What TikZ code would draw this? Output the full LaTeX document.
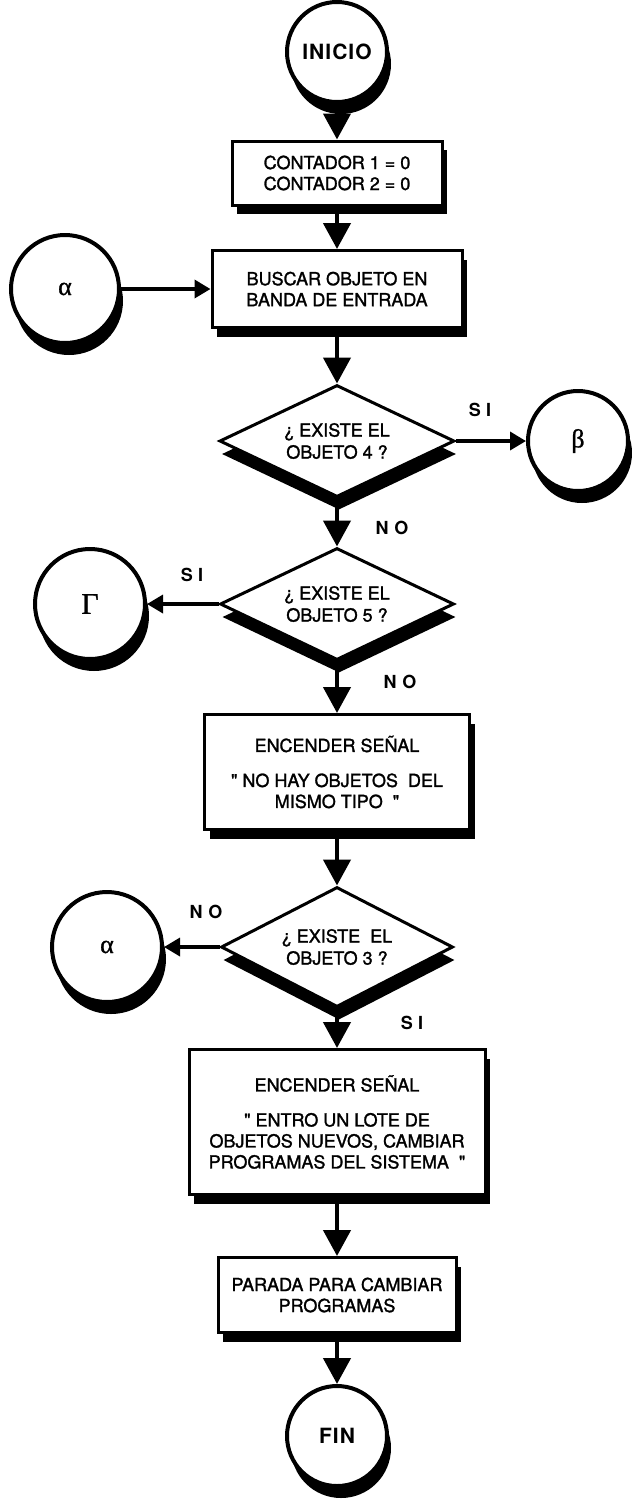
\documentclass[tikz,border=0pt]{standalone}
\usepackage{fontspec}
\setmainfont{TeX Gyre Heros}[Ligatures=TeXOff, FakeBold=1.5]
\newfontfamily\greekfont{Liberation Serif}[FakeBold=1]
\newfontfamily\tagfont{TeX Gyre Heros}[LetterSpace=30]
\newfontfamily\termfont{TeX Gyre Heros}[LetterSpace=5]
\usetikzlibrary{shapes.geometric,arrows.meta,shadows}

\begin{document}
\begin{tikzpicture}[x=1pt,y=-1pt,
  base/.style={draw=black, fill=white, line width=3pt, align=center,
    font=\fontsize{18}{21}\selectfont},
  procbox/.style={base, rectangle, inner sep=0pt,
    drop shadow={shadow xshift=5pt, shadow yshift=-9pt, fill=black, opacity=1}},
  decision/.style={base, diamond, aspect=2, inner sep=0pt,
    font=\fontsize{18}{22}\selectfont,
    drop shadow={shadow xshift=2pt, shadow yshift=-13pt, fill=black, opacity=1}},
  roundel/.style={base, circle, line width=4pt, inner sep=0pt,
    drop shadow={shadow xshift=4pt, shadow yshift=-12pt, fill=black, opacity=1}},
  terminal/.style={roundel, font=\termfont\bfseries\fontsize{21}{24}\selectfont},
  jump/.style={roundel, font=\greekfont\fontsize{26}{28}\selectfont},
  tag/.style={font=\tagfont\bfseries\fontsize{18}{20}\selectfont},
  flow/.style={line width=4.5pt, -{Triangle[width=27pt,length=26pt]}},
  branch/.style={line width=3.5pt, -{Triangle[width=18pt,length=16pt]}}
]
\useasboundingbox (0,0) rectangle (632,1500);

% main column
\node[terminal, minimum size=100pt] (inicio) at (337,52) {INICIO};
\node[procbox, minimum width=210pt, minimum height=64pt] (cont) at (337,173)
  {CONTADOR 1 = 0\\CONTADOR 2 = 0};
\node[procbox, minimum width=250pt, minimum height=77pt] (buscar) at (337,289)
  {BUSCAR OBJETO EN\\BANDA DE ENTRADA};
\node[decision, minimum width=235pt, minimum height=112pt] (obj4) at (337,441)
  {¿ EXISTE EL\\OBJETO 4 ?};
\node[decision, minimum width=234pt, minimum height=112pt] (obj5) at (337,604)
  {¿ EXISTE EL\\OBJETO 5 ?};
\node[procbox, minimum width=265pt, minimum height=115pt] (senal1) at (337,772)
  {ENCENDER SEÑAL\\[14pt]" NO HAY OBJETOS\ \ DEL\\MISMO TIPO\ \ "};
\node[decision, minimum width=232pt, minimum height=120pt] (obj3) at (337,947)
  {¿ EXISTE\ \ EL\\OBJETO 3 ?};
\node[procbox, minimum width=296pt, minimum height=145pt] (senal2) at (337,1122)
  {ENCENDER SEÑAL\\[14pt]" ENTRO UN LOTE DE\\OBJETOS NUEVOS, CAMBIAR\\PROGRAMAS DEL SISTEMA\ \ "};
\node[procbox, minimum width=238pt, minimum height=75pt] (parada) at (337,1295)
  {PARADA PARA CAMBIAR\\PROGRAMAS};
\node[terminal, minimum size=100pt] (fin) at (337,1436) {FIN};

% off-page connectors
\node[jump, minimum size=108pt] (alphaA) at (65,289) {α};
\node[jump, minimum size=100pt] (beta) at (578,441) {β};
\node[jump, minimum size=110pt, font=\greekfont\fontsize{30}{32}\selectfont] (gamma) at (90,604) {Γ};
\node[jump, minimum size=110pt] (alphaB) at (107,947) {α};

% branch labels
\node[tag] (si4) at (480,410) {SI};
\node[tag] (no4) at (392,528) {NO};
\node[tag] (si5) at (192,575) {SI};
\node[tag] (no5) at (400,682) {NO};
\node[tag] (no3) at (206,912) {NO};
\node[tag] (si3) at (412,1023) {SI};

% flow lines
\draw[flow] (inicio.south) -- (cont.north);
\draw[flow] (cont.south) -- (buscar.north);
\draw[branch] (alphaA.east) -- (buscar.west);
\draw[flow] (buscar.south) -- (obj4.north);
\draw[branch] (obj4.east) -- (beta.west);
\draw[flow] (obj4.south) -- (obj5.north);
\draw[branch] (obj5.west) -- (gamma.east);
\draw[flow] (obj5.south) -- (senal1.north);
\draw[flow] (senal1.south) -- (obj3.north);
\draw[branch] (obj3.west) -- (alphaB.east);
\draw[flow] (obj3.south) -- (senal2.north);
\draw[flow] (senal2.south) -- (parada.north);
\draw[flow] (parada.south) -- (fin.north);
\end{tikzpicture}
\end{document}
